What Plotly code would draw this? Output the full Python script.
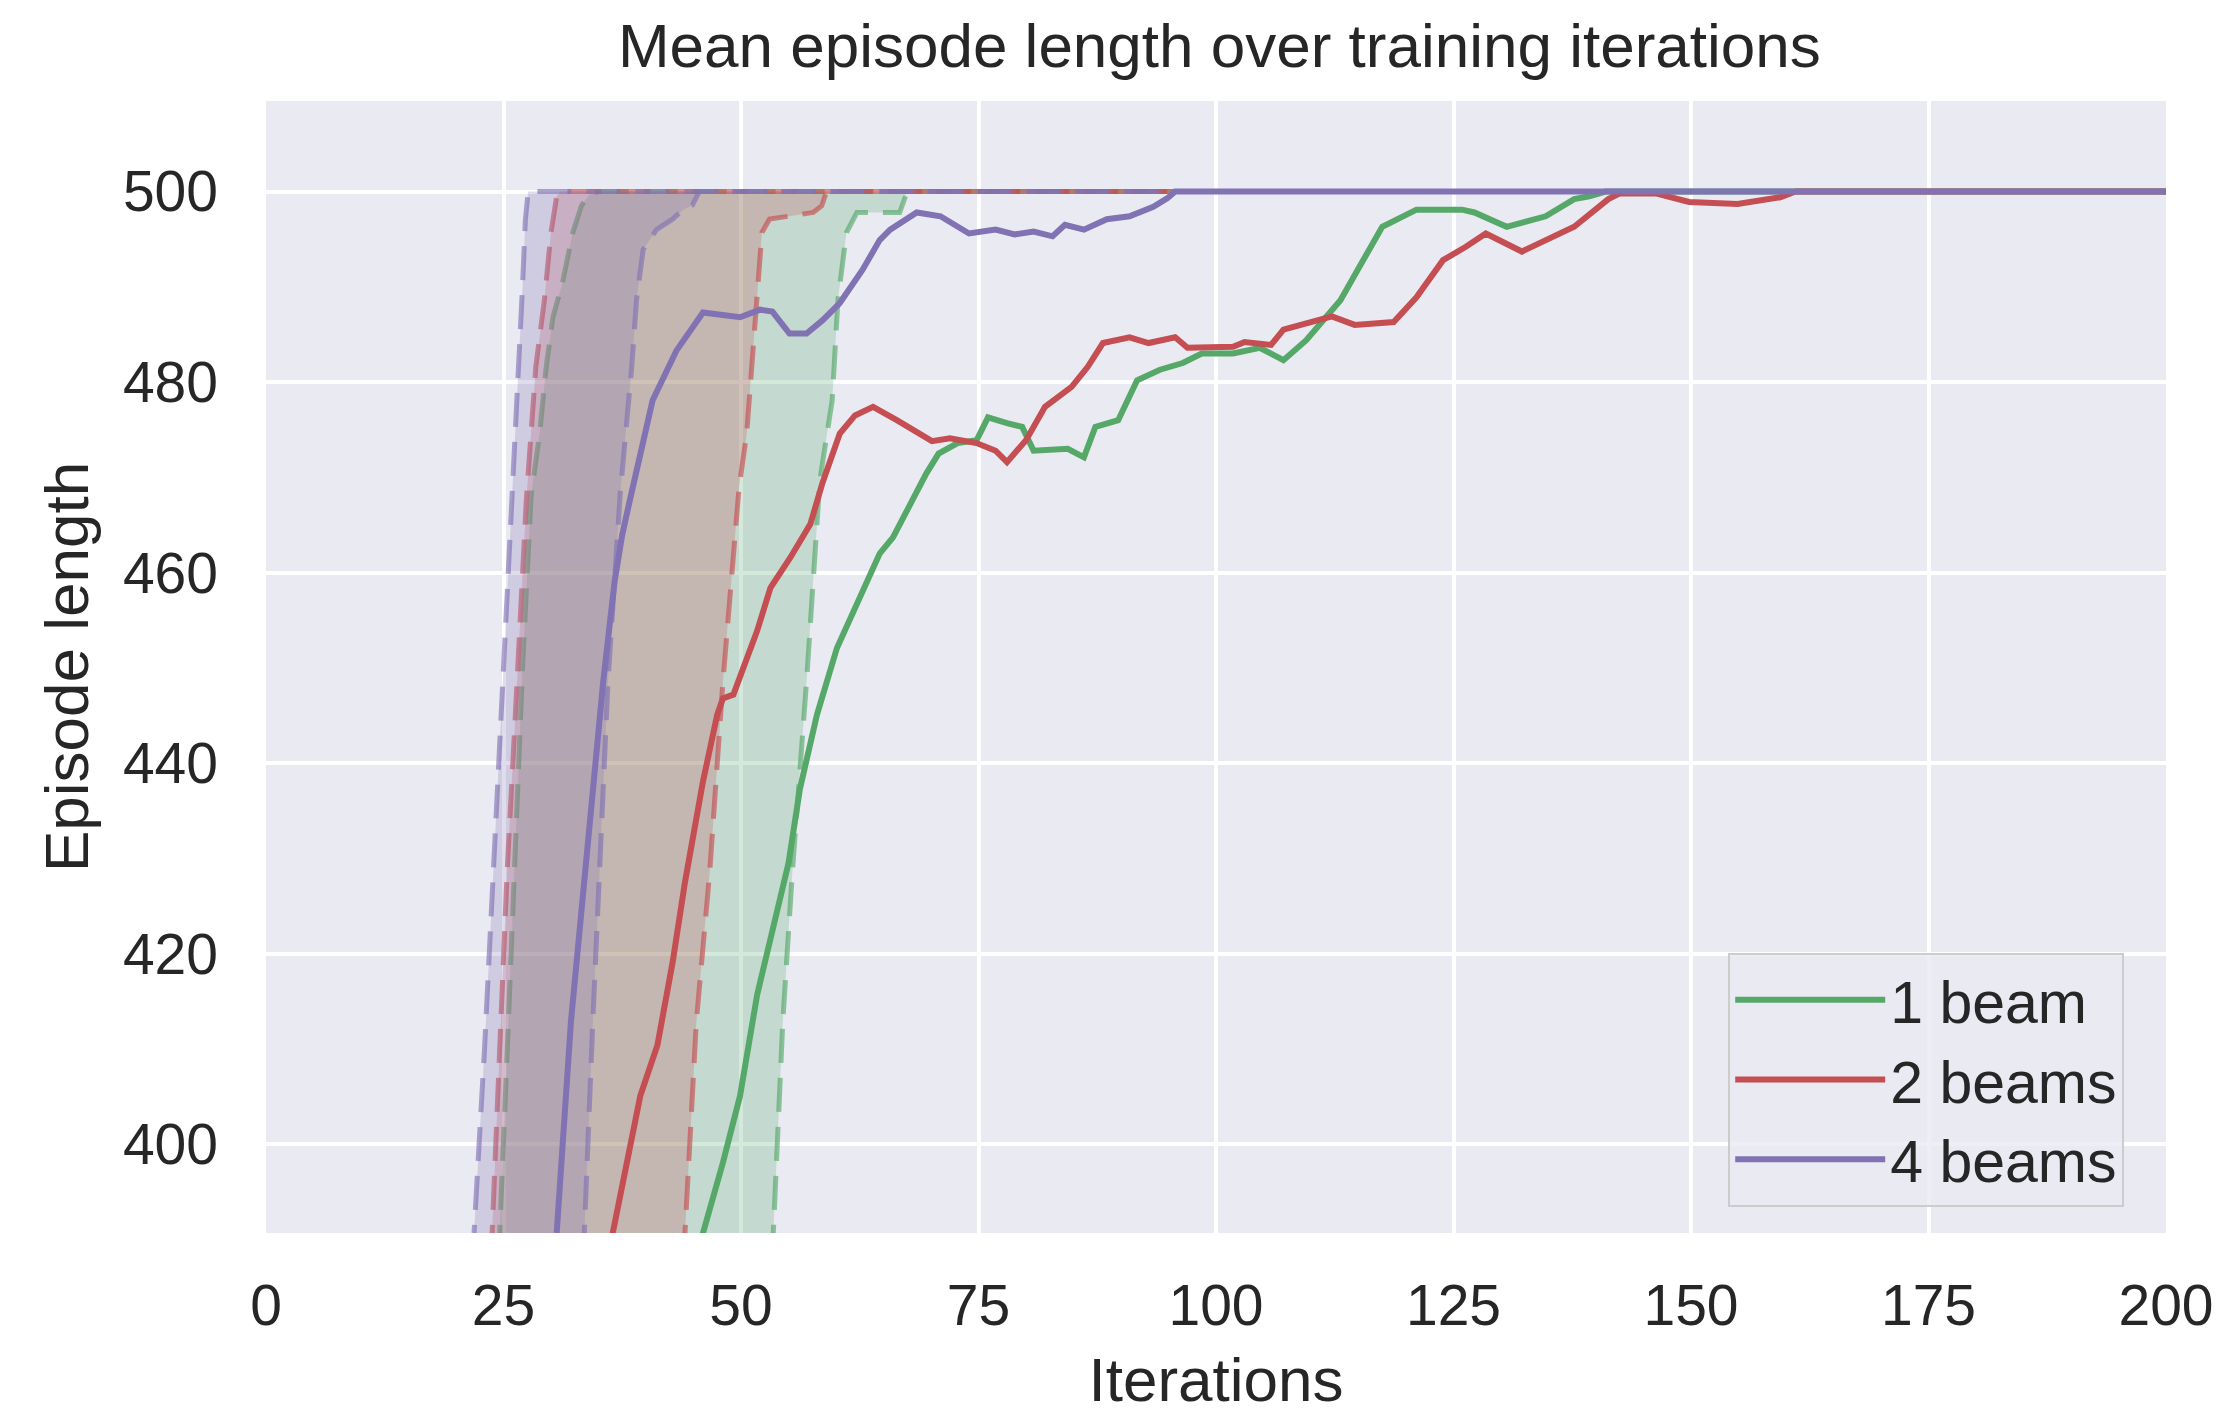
import plotly.graph_objects as go

# ---------------- data (iteration, episode length) ----------------
series_names = ["1 beam", "2 beams", "4 beams"]

# 1 beam
beam1_mean_x = [45.3, 46.0, 48.1, 49.9, 51.7, 53.4, 55.0, 56.2, 58.0, 60.1, 62.5, 64.6, 66.0, 68.0, 69.5,
                70.8, 72.8, 74.8, 76.0, 78.0, 79.6, 80.8, 84.4, 86.1, 87.3, 89.7, 91.7, 94.1, 96.5, 98.5,
                101.8, 104.6, 107.1, 109.5, 111.9, 113.1, 115.1, 117.5, 121.1, 125.9, 127.2, 130.6, 134.7,
                137.7, 139.3, 141.0, 200.0]
beam1_mean_y = [388.0, 390.7, 398.1, 405.1, 415.7, 422.6, 429.5, 437.3, 445.1, 452.1, 457.4, 462.0, 463.7, 467.6, 470.4,
                472.5, 473.6, 473.9, 476.3, 475.7, 475.3, 472.8, 473.0, 472.1, 475.3, 476.0, 480.2, 481.3, 482.0, 483.0,
                483.0, 483.6, 482.3, 484.4, 487.2, 488.6, 492.1, 496.3, 498.1, 498.1, 497.8, 496.3, 497.4,
                499.2, 499.5, 500.0, 500.0]
beam1_upper_x = [24.4, 24.6, 25.4, 26.1, 27.0, 27.9, 28.8, 29.5, 30.2, 31.2, 32.3, 33.2, 34.0, 35.0, 200.0]
beam1_upper_y = [388.0, 390.7, 410.0, 429.0, 450.0, 468.0, 474.6, 481.6, 486.8, 490.4, 495.7, 498.5, 499.6, 500.0, 500.0]
beam1_lower_x = [53.3, 53.4, 54.4, 55.4, 56.9, 58.3, 59.6, 60.2, 61.1, 62.2, 66.7, 67.5, 200.0]
beam1_lower_y = [388.0, 390.7, 412.9, 428.5, 448.6, 469.7, 478.1, 488.6, 495.7, 497.8, 497.8, 500.0, 500.0]

# 2 beams
beam2_mean_x = [36.2, 36.5, 39.4, 41.2, 42.8, 44.1, 46.0, 47.5, 48.1, 49.2, 51.7, 53.1, 55.2, 57.3, 58.6,
                60.4, 62.0, 63.9, 66.4, 70.1, 72.0, 74.8, 76.8, 78.0, 80.0, 82.0, 84.8, 86.5, 88.1, 90.9,
                92.9, 95.7, 97.0, 98.9, 101.8, 103.0, 105.8, 107.1, 109.5, 112.2, 114.6, 118.7, 121.1, 123.9,
                126.3, 128.4, 132.2, 134.7, 137.7, 141.3, 142.5, 146.3, 149.8, 154.9, 159.4, 161.0, 200.0]
beam2_mean_y = [388.0, 390.7, 405.1, 410.4, 419.1, 427.5, 438.1, 445.1, 446.8, 447.2, 453.9, 458.4, 461.6, 465.1, 469.5,
                474.6, 476.5, 477.4, 476.0, 473.8, 474.1, 473.6, 472.8, 471.6, 473.9, 477.4, 479.5, 481.6, 484.1, 484.7,
                484.1, 484.7, 483.6, 483.6, 483.7, 484.2, 483.9, 485.5, 486.2, 486.9, 486.0, 486.3, 488.9, 492.8,
                494.2, 495.6, 493.7, 494.9, 496.3, 499.2, 499.8, 499.8, 498.9, 498.7, 499.4, 500.0, 500.0]
beam2_upper_x = [23.6, 23.8, 24.6, 25.4, 26.4, 27.4, 27.9, 28.4, 29.3, 30.0, 30.6, 31.0, 200.0]
beam2_upper_y = [388.0, 390.7, 410.0, 429.0, 448.0, 467.6, 474.6, 481.6, 488.6, 495.7, 499.5, 500.0, 500.0]
beam2_lower_x = [44.0, 44.1, 45.3, 46.7, 48.1, 49.8, 50.6, 51.1, 51.7, 52.2, 53.0, 55.1, 57.6, 58.5, 59.0, 200.0]
beam2_lower_y = [388.0, 390.7, 412.9, 428.5, 448.6, 469.0, 474.6, 481.6, 488.6, 495.7, 497.1, 497.4, 497.8, 498.5, 500.0, 500.0]

# 4 beams
beam4_mean_x = [30.3, 30.6, 32.1, 33.6, 35.5, 36.7, 37.5, 38.3, 40.7, 43.2, 46.0, 49.9, 52.0, 53.3, 55.1,
                56.9, 58.6, 60.4, 62.8, 64.6, 65.7, 68.5, 71.0, 74.0, 76.8, 78.8, 80.8, 82.8, 84.1, 86.1,
                88.5, 90.9, 93.4, 94.9, 95.7, 200.0]
beam4_mean_y = [388.0, 390.7, 412.9, 429.0, 448.6, 459.1, 464.0, 467.6, 478.1, 483.3, 487.3, 486.8, 487.6, 487.4, 485.1,
                485.1, 486.5, 488.3, 491.8, 494.9, 496.0, 497.8, 497.4, 495.6, 496.0, 495.5, 495.8, 495.3, 496.5, 496.0,
                497.1, 497.4, 498.4, 499.3, 500.0, 500.0]
beam4_upper_x = [21.6, 21.9, 23.0, 24.0, 24.9, 26.1, 26.6, 27.0, 27.3, 27.6, 200.0]
beam4_upper_y = [388.0, 390.7, 410.0, 429.7, 448.0, 469.7, 480.0, 490.0, 497.0, 500.0, 500.0]
beam4_lower_x = [33.4, 33.5, 34.4, 35.1, 36.0, 37.3, 37.9, 38.5, 39.0, 39.7, 41.1, 42.8, 43.9, 44.9, 45.6, 200.0]
beam4_lower_y = [388.0, 390.7, 412.9, 428.5, 448.6, 468.5, 474.6, 481.6, 488.6, 493.9, 496.0, 497.1, 498.1, 498.6, 500.0, 500.0]

x_ticks = [0, 25, 50, 75, 100, 125, 150, 175, 200]
y_ticks = [400, 420, 440, 460, 480, 500]

# ---------------- styles ----------------
FONT = "Liberation Sans, Arial, Helvetica, sans-serif"
TEXT = "#262626"
colors = ["rgb(85,168,104)", "rgb(196,78,82)", "rgb(129,114,179)"]
dash_colors = ["rgba(85,168,104,0.65)", "rgba(196,78,82,0.65)", "rgba(129,114,179,0.65)"]
fill_colors = ["rgba(85,168,104,0.25)", "rgba(196,78,82,0.25)", "rgba(129,114,179,0.25)"]

data = [
    (beam1_mean_x, beam1_mean_y, beam1_upper_x, beam1_upper_y, beam1_lower_x, beam1_lower_y),
    (beam2_mean_x, beam2_mean_y, beam2_upper_x, beam2_upper_y, beam2_lower_x, beam2_lower_y),
    (beam4_mean_x, beam4_mean_y, beam4_upper_x, beam4_upper_y, beam4_lower_x, beam4_lower_y),
]

fig = go.Figure()
for i, (mx, my, ux, uy, lx, ly) in enumerate(data):
    fig.add_trace(go.Scatter(x=lx, y=ly, mode="lines", showlegend=False, hoverinfo="skip",
                             line=dict(color=dash_colors[i], width=5, dash="34px,15px")))
    fig.add_trace(go.Scatter(x=ux, y=uy, mode="lines", showlegend=False, hoverinfo="skip",
                             fill="tonexty", fillcolor=fill_colors[i],
                             line=dict(color=dash_colors[i], width=5, dash="34px,15px")))
    fig.add_trace(go.Scatter(x=mx, y=my, mode="lines", name=series_names[i],
                             line=dict(color=colors[i], width=6)))

# page body has an 8px default margin, so the figure is 8px smaller than the window
fig.update_layout(
    width=2221, height=1407,
    paper_bgcolor="white", plot_bgcolor="#EAEAF2",
    margin=dict(l=258, r=63, t=93, b=182),
    font=dict(family=FONT, color=TEXT, size=57),
    title=dict(text="Mean episode length over training iterations", x=0.5454, xanchor="center",
               y=0.9735, yanchor="middle", yref="container", font=dict(size=62, color=TEXT)),
    legend=dict(x=0.978, y=0.023, xanchor="right", yanchor="bottom", traceorder="normal",
                bgcolor="rgba(234,234,242,0.8)", bordercolor="#CCCCCC", borderwidth=2,
                font=dict(size=59, color=TEXT), itemwidth=150, tracegroupgap=0),
)
fig.update_xaxes(range=[0, 200], tickvals=x_ticks, showgrid=True, gridcolor="white", gridwidth=3.5,
                 zeroline=False, showline=False, ticks="", ticklabelstandoff=34,
                 title=dict(text="Iterations", font=dict(size=62, color=TEXT), standoff=21))
fig.update_yaxes(range=[390.7, 509.5], tickvals=y_ticks, showgrid=True, gridcolor="white", gridwidth=3.5,
                 zeroline=False, showline=False, ticks="", ticklabelstandoff=47,
                 title=dict(text="Episode length", font=dict(size=62, color=TEXT), standoff=14))

fig.write_html("out.html")
